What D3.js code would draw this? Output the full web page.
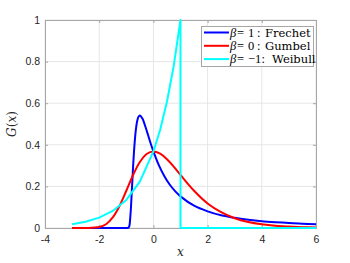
<!DOCTYPE html>
<html>
<head>
<meta charset="utf-8">
<script src="https://cdn.jsdelivr.net/npm/d3@7"></script>
<style>
  body { margin: 0; background: #fff; }
  svg { display: block; }
</style>
</head>
<body>
<div id="container"></div>
<script>
/* DATA */
const xTicks = [-4, -2, 0, 2, 4, 6];
const yTicks = [0, 0.2, 0.4, 0.6, 0.8, 1];

// beta = 1 : Frechet
const frechetX = [-3, -2, -1, -0.95, -0.9, -0.85, -0.8, -0.75, -0.7, -0.65, -0.6, -0.55, -0.5, -0.4, -0.3, -0.2, -0.1, 0, 0.2, 0.4, 0.6, 0.8, 1, 1.5, 2, 2.5, 3, 3.5, 4, 4.5, 5, 5.5, 6];
const frechetY = [0, 0, 0, 0, 0.005, 0.057, 0.168, 0.293, 0.396, 0.469, 0.513, 0.535, 0.541, 0.525, 0.489, 0.448, 0.406, 0.368, 0.302, 0.250, 0.209, 0.177, 0.152, 0.107, 0.080, 0.061, 0.049, 0.040, 0.033, 0.028, 0.024, 0.020, 0.018];

// beta = 0 : Gumbel
const gumbelX = [-3, -2.5, -2, -1.75, -1.5, -1.25, -1, -0.75, -0.5, -0.25, 0, 0.25, 0.5, 0.75, 1, 1.5, 2, 2.5, 3, 3.5, 4, 4.5, 5, 5.5, 6];
const gumbelY = [0, 0, 0.005, 0.018, 0.051, 0.106, 0.179, 0.255, 0.317, 0.356, 0.368, 0.357, 0.331, 0.295, 0.255, 0.179, 0.118, 0.076, 0.047, 0.029, 0.018, 0.011, 0.007, 0.004, 0.002];

// beta = -1 : Weibull
const weibullX = [-3, -2.5, -2, -1.5, -1, -0.5, 0, 0.25, 0.5, 0.75, 1, 1, 6];
const weibullY = [0.018, 0.030, 0.050, 0.082, 0.135, 0.223, 0.368, 0.472, 0.607, 0.779, 1, 0, 0];

const legendBeta = ["1", "0", "\u22121"];
const legendNames = ["Frechet", "Gumbel", "Weibull"];
const seriesColors = ["#0000ff", "#ff0000", "#00ffff"];

/* LAYOUT */
const width = 350, height = 263;
const margin = { top: 20, right: 34, bottom: 35, left: 45 };
const axisColor = "#a6a6a6";

const svg = d3.select("#container")
  .append("svg")
  .attr("width", width)
  .attr("height", height);

const xScale = d3.scaleLinear()
  .domain([-4, 6])
  .range([margin.left, width - margin.right]);

const yScale = d3.scaleLinear()
  .domain([0, 1])
  .range([height - margin.bottom, margin.top]);

// grid
svg.append("g")
  .selectAll("line")
  .data(xTicks)
  .join("line")
  .attr("x1", d => xScale(d)).attr("x2", d => xScale(d))
  .attr("y1", yScale(0)).attr("y2", yScale(1))
  .attr("stroke", "#e6e6e6");

svg.append("g")
  .selectAll("line")
  .data(yTicks)
  .join("line")
  .attr("x1", xScale(-4)).attr("x2", xScale(6))
  .attr("y1", d => yScale(d)).attr("y2", d => yScale(d))
  .attr("stroke", "#e6e6e6");

// axes
const xAxis = svg.append("g")
  .attr("transform", `translate(0,${yScale(0)})`)
  .call(d3.axisBottom(xScale).tickValues(xTicks).tickSize(-3).tickPadding(8).tickFormat(d => String(d)));

const yAxis = svg.append("g")
  .attr("transform", `translate(${xScale(-4)},0)`)
  .call(d3.axisLeft(yScale).tickValues(yTicks).tickSize(-3).tickPadding(5).tickFormat(d => String(d)));

[xAxis, yAxis].forEach(g => {
  g.select(".domain").attr("stroke", axisColor);
  g.selectAll(".tick line").attr("stroke", axisColor);
  g.selectAll(".tick text")
    .attr("fill", "#262626")
    .style("font-family", "Liberation Sans, Arial, sans-serif")
    .style("font-size", "10.5px");
});

// top and right box
svg.append("g")
  .attr("transform", `translate(0,${yScale(1)})`)
  .call(d3.axisTop(xScale).tickValues(xTicks).tickSize(-3).tickFormat(""))
  .call(g => g.selectAll("path, line").attr("stroke", axisColor));

svg.append("g")
  .attr("transform", `translate(${xScale(6)},0)`)
  .call(d3.axisRight(yScale).tickValues(yTicks).tickSize(-3).tickFormat(""))
  .call(g => g.selectAll("path, line").attr("stroke", axisColor));

// curves
const series = [
  d3.zip(frechetX, frechetY),
  d3.zip(gumbelX, gumbelY),
  d3.zip(weibullX, weibullY)
];

series.forEach((s, i) => {
  const gen = d3.line()
    .x(d => xScale(d[0]))
    .y(d => yScale(d[1]))
    .curve(i === 2 ? d3.curveLinear : d3.curveCatmullRom.alpha(0.5));
  svg.append("path")
    .datum(s)
    .attr("fill", "none")
    .attr("stroke", seriesColors[i])
    .attr("stroke-width", 2)
    .attr("stroke-linejoin", "round")
    .attr("d", gen);
});

// axis labels
svg.append("text")
  .attr("x", (xScale(-4) + xScale(6)) / 2)
  .attr("y", 256)
  .attr("text-anchor", "middle")
  .style("font-family", "DejaVu Serif, serif")
  .style("font-style", "italic")
  .style("font-size", "12px")
  .attr("fill", "#262626")
  .text("x");

svg.append("text")
  .attr("transform", `translate(16,${(yScale(0) + yScale(1)) / 2}) rotate(-90)`)
  .attr("text-anchor", "middle")
  .style("font-family", "DejaVu Serif, serif")
  .style("font-size", "12px")
  .attr("fill", "#262626")
  .html('<tspan font-style="italic">G</tspan>(<tspan font-style="italic">x</tspan>)');

// legend
const legend = svg.append("g");
legend.append("rect")
  .attr("x", 201.5).attr("y", 26.5)
  .attr("width", 112).attr("height", 40)
  .attr("fill", "#fff")
  .attr("stroke", "#a6a6a6");

const rowY = i => 32.5 + i * 13.3;

legend.selectAll("line")
  .data(seriesColors)
  .join("line")
  .attr("x1", 204).attr("x2", 229)
  .attr("y1", (_, i) => rowY(i))
  .attr("y2", (_, i) => rowY(i))
  .attr("stroke", d => d)
  .attr("stroke-width", 2);

const rows = legend.selectAll("text")
  .data(legendNames)
  .join("text")
  .attr("y", (_, i) => rowY(i))
  .attr("dy", "0.35em")
  .style("font-family", "Liberation Serif, serif")
  .style("font-size", "12.5px")
  .attr("fill", "#000");

rows.append("tspan").attr("x", 230).style("font-style", "italic").text("\u03B2");
rows.append("tspan").attr("x", 237).text("=");
rows.append("tspan").attr("x", 248).text((_, i) => legendBeta[i]);
rows.append("tspan").attr("x", (_, i) => i === 2 ? 261.5 : 257).text(":");
rows.append("tspan")
  .attr("x", (_, i) => i === 2 ? 272 : 265)
  .style("font-family", "DejaVu Serif, serif")
  .style("font-size", "11.5px")
  .text(d => d);
</script>
</body>
</html>
